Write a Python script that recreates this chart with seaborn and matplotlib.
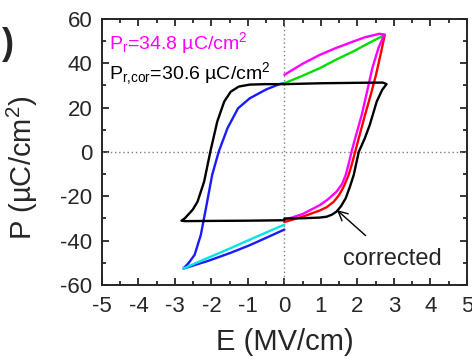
import matplotlib
matplotlib.use("Agg")
import matplotlib.pyplot as plt
import seaborn as sns
import pandas as pd

# ---------------- data ----------------
# measured loop, positive side: switching branch up, then remanent return (magenta)
E_magenta = [0, 0.5, 0.97, 1.2, 1.43, 1.58, 1.68, 1.76, 1.84, 1.98, 2.12, 2.27, 2.41, 2.58, 2.74,
             2.6, 2.2, 1.88, 1.4, 0.97, 0.5, 0]
P_magenta = [-30.7, -28, -24, -21.3, -17.9, -14.5, -10.4, -5.5, 0.1, 8.5, 16.7, 27.5, 37.8, 47, 53,
             53.3, 51.7, 49.8, 46.8, 43.8, 39.8, 34.8]

# second positive branch (red, up)
E_red = [0, 0.5, 0.97, 1.16, 1.35, 1.5, 1.63, 1.76, 1.85, 1.94, 2.06, 2.21, 2.37, 2.51, 2.65, 2.75]
P_red = [-31.6, -29.2, -26.4, -24.9, -22.5, -19.4, -15.5, -10.4, -5.5, 0.1, 7.5, 16.7, 26, 34.7, 45, 52.8]

# non-switching return (green)
E_green = [2.75, 2.3, 1.88, 1.4, 0.97, 0.5, 0]
P_green = [52.8, 49, 45.3, 41.5, 37.8, 34.4, 31]

# negative side: switching branch (blue) and return
E_blue = [0, -0.12, -0.5, -0.95, -1.27, -1.56, -1.8, -1.98, -2.15, -2.29, -2.46, -2.62, -2.77,
          -2.1, -1.49, -0.97, -0.4, 0]
P_blue = [31, 30.7, 28.2, 24.2, 19.7, 10.7, 0.1, -10.4, -25.4, -37.4, -46.4, -50, -52.6,
          -49.2, -45.6, -42.2, -38, -35]

# non-switching negative branch (cyan)
E_cyan = [0, -0.4, -1.49, -2.1, -2.77]
P_cyan = [-32.8, -35.6, -43.5, -47.8, -52.6]

# corrected loop (black)
E_black = [0, -0.5, -0.95, -1.25, -1.47, -1.65, -1.84, -2.03, -2.2, -2.38, -2.51, -2.61, -2.72, -2.82,
           -2.72, -2.0, -1.0, 0,
           0, 0.5, 0.97, 1.16, 1.3, 1.43, 1.55, 1.68, 1.8, 1.9, 2.04, 2.2, 2.34, 2.53, 2.68, 2.8,
           2.7, 2.0, 1.0, 0]
P_black = [30.6, 30.6, 30.4, 29.5, 27.2, 22.7, 13.7, 0.1, -13.4, -22.4, -26, -27.8, -29.8, -31,
           -31.2, -31.1, -31, -30.8,
           -30, -29.9, -29.6, -29.2, -28.3, -26.9, -24.5, -20.9, -15.5, -10.4, 0.1, 6, 12.2, 22.7, 28, 30.6,
           31.3, 31.2, 31, 30.6]

x_ticks = [-5, -4, -3, -2, -1, 0, 1, 2, 3, 4, 5]
y_ticks = [-60, -40, -20, 0, 20, 40, 60]

label_pr = r"$\mathregular{P_r}$=34.8 µC/cm$\mathregular{^2}$"
label_prcor = r"$\mathregular{P_{r{,}cor}}$=30.6 µC/cm$\mathregular{^2}$"
# -----------------------------------------------------------------

sns.set_style("ticks")
plt.rcParams["font.family"] = ["Liberation Sans", "DejaVu Sans"]
plt.rcParams["mathtext.fontset"] = "custom"
plt.rcParams["mathtext.rm"] = "Liberation Sans"

fig = plt.figure(figsize=(4.72, 3.58), dpi=100)
ax = fig.add_axes([0.216, 0.204, 0.773, 0.743])

ax.axhline(0, color="#808080", ls=(0, (1, 2)), lw=1.0, zorder=1)
ax.axvline(0, color="#808080", ls=(0, (1, 2)), lw=1.0, zorder=1)

series = [
    (E_blue, P_blue, "#1a1aff"),
    (E_cyan, P_cyan, "#00e5e5"),
    (E_green, P_green, "#00dd00"),
    (E_red, P_red, "#ff0000"),
    (E_magenta, P_magenta, "#ff00ff"),
    (E_black, P_black, "#000000"),
]
for E, P, c in series:
    df = pd.DataFrame({"E": E, "P": P})
    sns.lineplot(data=df, x="E", y="P", sort=False, estimator=None, color=c, lw=1.7, ax=ax)

ax.set_xlim(-5, 5)
ax.set_ylim(-60, 60)
ax.set_xticks(x_ticks)
ax.set_xticklabels([str(v) for v in x_ticks])
ax.set_yticks(y_ticks)
ax.set_yticklabels([str(v) for v in y_ticks])
ax.set_xticks([v + 0.5 for v in x_ticks[:-1]], minor=True)
ax.set_yticks([v + 10 for v in y_ticks[:-1]], minor=True)
ax.tick_params(which="both", direction="in", top=True, right=True, width=1.3, labelsize=16)
ax.tick_params(which="major", length=5)
ax.tick_params(axis="x", which="major", pad=8)
ax.tick_params(axis="y", which="major", pad=7)
ax.tick_params(which="minor", length=3)
for s in ax.spines.values():
    s.set_linewidth(1.4)
    s.set_visible(True)

ax.set_xlabel("E (MV/cm)", fontsize=21, labelpad=8)
ax.set_ylabel(r"P (µC/cm$\mathregular{^2}$)", fontsize=21)
ax.yaxis.set_label_coords(-0.17, 0.44)

ax.text(-4.8, 49, label_pr, color="#ff00ff", fontsize=14, va="center", ha="left")
ax.text(-4.8, 35.5, label_prcor, color="black", fontsize=14, va="center", ha="left")

ax.annotate("corrected", xy=(1.44, -26.2), xytext=(2.95, -48.3), fontsize=17,
            ha="center", va="center",
            arrowprops=dict(arrowstyle="->", color="black", lw=1.0,
                            shrinkA=10, shrinkB=0))

fig.text(0.004, 0.875, ")", fontsize=26, fontweight="bold", va="center", ha="left")

fig.savefig("out.png", dpi=100)
